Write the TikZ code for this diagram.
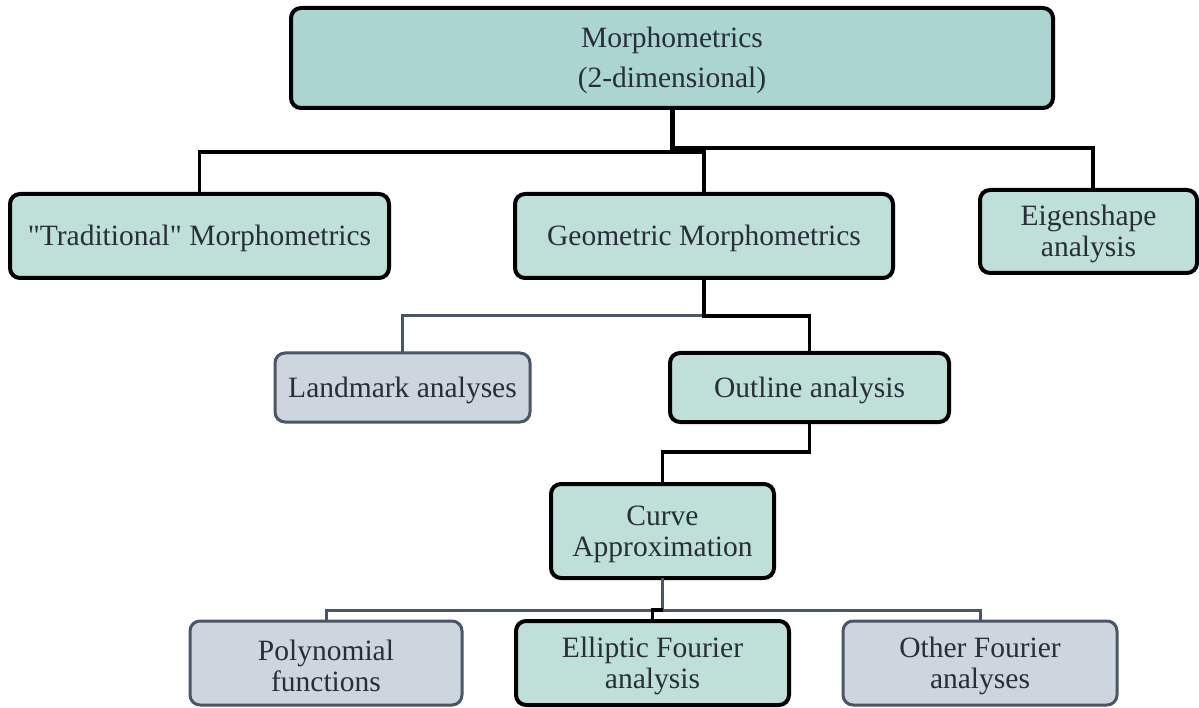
\documentclass[tikz,border=0pt]{standalone}
\usepackage{fontspec}
\setmainfont{Liberation Serif}[Ligatures=TeXOff]
\newcommand\lowr{\rule{0pt}{26pt}}
\begin{document}
\begin{tikzpicture}[x=1pt,y=-1pt,
  every node/.style={inner sep=0pt, outer sep=0pt, align=center, text=txt,
    font=\fontsize{29.5}{31}\selectfont},
  tealbox/.style={draw=black, line width=4pt, fill=tealfill, rounded corners=10pt},
  toptealbox/.style={tealbox, fill=topfill},
  graybox/.style={draw=slate, line width=3pt, fill=grayfill, rounded corners=10pt},
  blackconn/.style={draw=black, line width=3.5pt},
  grayconn/.style={draw=slate, line width=3pt},
]
\definecolor{tealfill}{RGB}{191,223,217}
\definecolor{topfill}{RGB}{170,213,208}
\definecolor{grayfill}{RGB}{205,213,223}
\definecolor{slate}{RGB}{74,85,104}
\definecolor{txt}{RGB}{40,46,56}
\useasboundingbox (0,0) rectangle (1199,708);

\node[toptealbox, minimum width=762, minimum height=100] (top) at (672,58)
  {\lowr Morphometrics\\[9pt](2-dimensional)};
\node[tealbox, minimum width=379, minimum height=84] (trad) at (199.5,236) {\lowr"Traditional" Morphometrics};
\node[tealbox, minimum width=378, minimum height=84] (geom) at (704,236) {\lowr Geometric Morphometrics};
\node[tealbox, minimum width=217, minimum height=83] (eigen) at (1088.5,231.5) {\lowr Eigenshape\\analysis};
\node[graybox, minimum width=255, minimum height=69] (land) at (402.5,387.5) {\lowr Landmark analyses};
\node[tealbox, minimum width=279, minimum height=69] (outl) at (809.5,387.5) {\lowr Outline analysis};
\node[tealbox, minimum width=223, minimum height=94] (curve) at (662.5,531) {\lowr Curve\\Approximation};
\node[graybox, minimum width=272, minimum height=84] (poly) at (326,663) {\lowr Polynomial\\functions};
\node[tealbox, minimum width=273, minimum height=84] (ellip) at (652.5,663) {\lowr Elliptic Fourier\\analysis};
\node[graybox, minimum width=274, minimum height=84] (other) at (980,663) {\lowr Other Fourier\\analyses};

% top level connectors
\path (top.south) ++(0,44) coordinate (j1);
\path (top.south) ++(0,40) coordinate (j1b);
\draw[blackconn, line width=5pt] (top.south) -- (j1);
\draw[blackconn] (j1) -| (trad.north);
\draw[blackconn] (j1) -| (geom.north);
\draw[blackconn] (j1b) -| ([xshift=4.5]eigen.north);

% geometric connectors
\path (geom.south) ++(0,38) coordinate (j2);
\draw[grayconn] (j2) -| (land.north);
\draw[blackconn] (geom.south) -- (j2) -| (outl.north);

% outline to curve
\path (outl.south) ++(0,30) coordinate (j3);
\draw[blackconn] (outl.south) -- (j3) -| (curve.north);

% curve connectors
\path (curve.south) ++(0,32) coordinate (j4);
\draw[grayconn] (curve.south) -- (j4);
\draw[grayconn] (j4) -| (poly.north);
\draw[grayconn] (j4) -| (other.north);
\draw[blackconn] (j4) -| (ellip.north);
\end{tikzpicture}
\end{document}
